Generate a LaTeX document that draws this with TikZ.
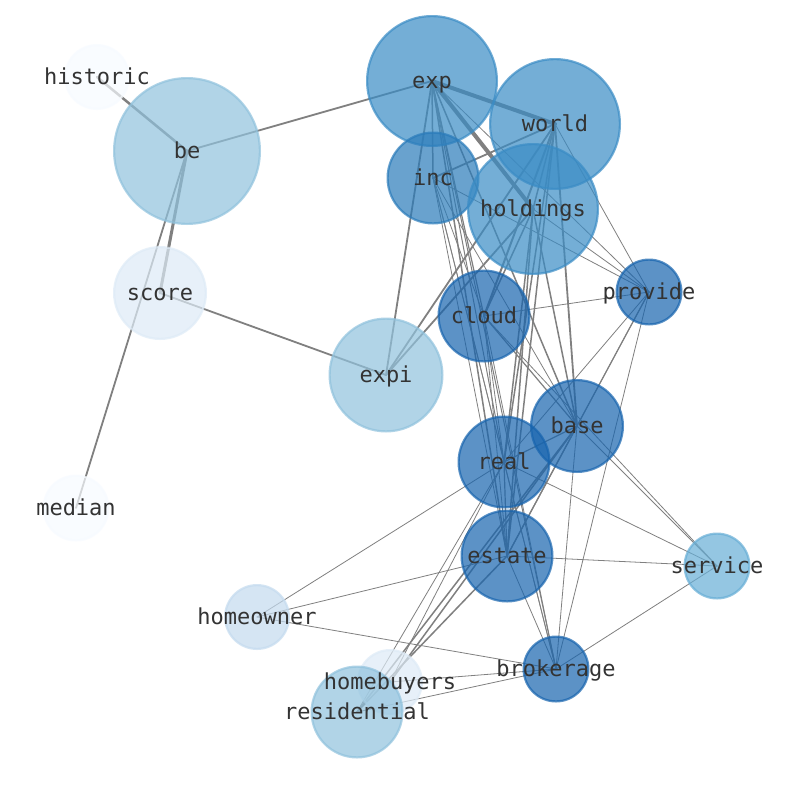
\documentclass[tikz,border=0pt]{standalone}
\usepackage{fontspec}
\setmonofont{DejaVu Sans Mono}
\definecolor{cA}{HTML}{F7FBFF}
\definecolor{cB}{HTML}{DEEBF7}
\definecolor{cB2}{HTML}{C4DBEF}
\definecolor{cC}{HTML}{90C2DD}
\definecolor{cD}{HTML}{94C3E0}
\definecolor{cE}{HTML}{67AED6}
\definecolor{cF}{HTML}{3A8CC5}
\definecolor{cG}{HTML}{2A7BBA}
\definecolor{cH}{HTML}{1764AE}
\definecolor{edgegray}{HTML}{808080}
\definecolor{labelgray}{HTML}{333333}
\tikzset{
  edge/.style={draw=edgegray, line cap=round},
  bubble/.style={circle, inner sep=0pt, fill opacity=0.7, draw opacity=0.7, line width=2.2pt},
  lbl/.style={font=\ttfamily\fontsize{22}{22}\selectfont, text=labelgray, inner sep=0pt,
    text height=16.7pt, text depth=5.2pt, yshift=-2pt}
}
\begin{document}
\begin{tikzpicture}[x=1pt,y=-1pt]
\useasboundingbox (0,0) rectangle (794,790);
\fill[white] (0,0) rectangle (794,790);
% node centres
\foreach \n/\x/\y in {historic/97/77, be/187/151, exp/432/81, world/555/124, inc/433/178,
  holdings/533/209, provide/649/292, score/160/293, cloud/484/316, expi/386/375,
  base/577/426, real/504/462, median/76/508, estate/507/556, service/717/566,
  homeowner/257/617, brokerage/556/669, homebuyers/390/682, residential/357/712}
  \coordinate (c-\n) at (\x,\y);
% connectors
\foreach \a/\b/\w in {historic/be/2.5, be/exp/1.8, be/score/3, be/median/1.8, score/expi/1.8,
  expi/exp/1.8, expi/world/1.8, expi/holdings/1.8,
  exp/world/4, exp/holdings/4, exp/inc/1.5, exp/cloud/1.2, exp/real/1, exp/estate/1.5,
  exp/base/1.5, exp/brokerage/1, exp/provide/0.8,
  world/inc/1.8, world/holdings/1.5, world/cloud/2, world/base/1.8, world/real/1.5,
  world/estate/1.5, world/provide/0.8,
  holdings/cloud/1.5, holdings/real/1.5, holdings/estate/1.5, holdings/base/1.5, holdings/provide/0.8,
  inc/provide/0.8, inc/cloud/0.8, inc/real/0.8, inc/estate/0.8, inc/base/0.8, inc/brokerage/0.8,
  cloud/provide/0.8, cloud/base/1.2, cloud/real/0.8, cloud/estate/0.8, cloud/brokerage/0.8, cloud/service/0.8,
  provide/base/0.8, provide/real/0.8, provide/estate/1.2, provide/brokerage/0.8,
  base/real/1.2, base/estate/1.2, base/service/0.8, base/brokerage/0.8,
  real/estate/1.2, real/service/0.8, real/brokerage/0.8, real/homeowner/0.8,
  estate/service/0.8, estate/homeowner/0.8, estate/brokerage/0.8,
  service/brokerage/0.8, homeowner/brokerage/0.8, homebuyers/brokerage/0.8,
  residential/brokerage/0.8, residential/base/1.5, homebuyers/base/1.5,
  residential/estate/1.5, residential/real/0.8, homebuyers/real/0.8}
  \draw[edge, line width=\w pt] (c-\a) -- (c-\b);
% bubbles
\foreach \n/\r/\c in {historic/33/cA, be/74/cC, exp/66/cF, world/66/cF, inc/46.5/cG,
  holdings/66/cF, provide/33.5/cH, score/47/cB, cloud/46.5/cH, expi/57.5/cC,
  base/47/cH, real/46.5/cH, median/33.5/cA, estate/46.5/cH, service/33.5/cE,
  homeowner/33/cB2, brokerage/33.5/cH, homebuyers/33/cB, residential/46.5/cC}
  \node[bubble, fill=\c, draw=\c, minimum size={2*\r pt-2.2pt}] (\n) at (c-\n) {};
% labels
\foreach \n in {historic, be, exp, world, inc, holdings, provide, score, cloud, expi,
  base, real, median, estate, service, homeowner, brokerage, homebuyers, residential}
  \node[lbl] (l-\n) at (c-\n) {\n};
\end{tikzpicture}
\end{document}
